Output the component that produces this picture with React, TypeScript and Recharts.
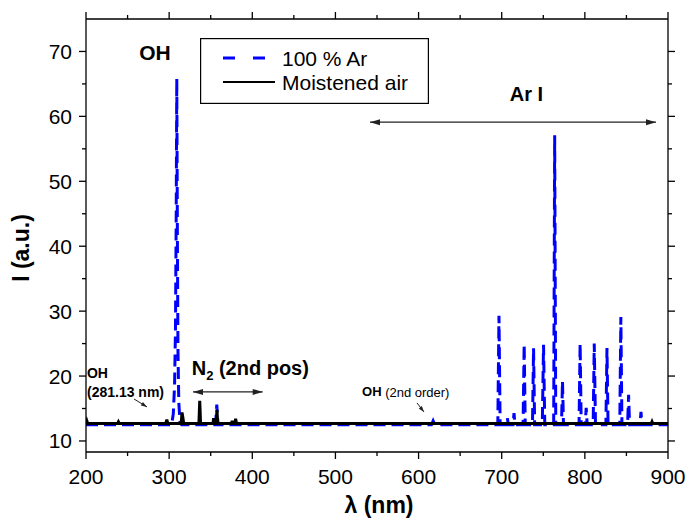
import React from 'react';
import { LineChart, Line, XAxis, YAxis, Legend, Label, ReferenceLine, ReferenceDot } from 'recharts';

// 100 % Ar spectrum (dashed blue)
const arWavelength = [
  200, 303, 305, 306.5, 307.6, 308.5, 309.2, 309.9, 310.6, 311.6, 313, 315,
  355.8, 357.3, 358.8, 615.5, 617.5, 619.5,
  695.3, 696.7, 698.1, 705.6, 706.8, 708, 713.6, 714.8, 716,
  725.7, 727.0, 728.3, 737.0, 738.3, 739.6, 748.8, 750.3, 751.8,
  762.5, 763.7, 765, 771.9, 773.1, 774.3, 793.0, 794.3, 795.6,
  800.4, 801.6, 802.8, 810.0, 811.3, 812.8, 825.3, 826.6, 827.9,
  842.0, 843.3, 844.6, 851.4, 852.6, 853.8, 866.3, 867.5, 868.7, 900,
];
const arIntensity = [
  12.5, 12.5, 14.2, 18.5, 27, 45, 65.8, 42, 24, 16, 13, 12.5,
  12.5, 15.6, 12.5, 12.5, 13.1, 12.5,
  12.5, 29.3, 12.5, 12.5, 13.5, 12.5, 12.5, 14.3, 12.5,
  12.5, 24.9, 12.5, 12.5, 24.3, 12.5, 12.5, 24.8, 12.5,
  12.5, 57.1, 12.5, 12.5, 19.2, 12.5, 12.5, 25.0, 12.5,
  12.5, 15.1, 12.5, 12.5, 25.0, 12.5, 12.5, 24.3, 12.5,
  12.5, 29.1, 12.5, 12.5, 17.1, 12.5, 12.5, 14.5, 12.5, 12.5,
];

// Moistened air spectrum (solid black)
const airWavelength = [
  200, 201, 202, 238, 239, 240, 296, 297.2, 298.4,
  314.5, 315.5, 316.5, 317.5, 335.8, 336.8, 337.8,
  352.8, 353.5, 354.5, 356.6, 357.5, 358.4,
  375, 375.8, 376.6, 379, 380, 381, 880, 880.8, 881.6, 900,
];
const airIntensity = [
  12.7, 13.1, 12.7, 12.7, 12.95, 12.7, 12.7, 13.3, 12.7,
  12.7, 14.4, 13.6, 12.7, 12.7, 16.2, 12.7,
  12.7, 13.5, 12.7, 12.7, 14.8, 12.7,
  12.7, 13.1, 12.7, 12.7, 13.4, 12.7, 12.7, 12.95, 12.7, 12.7,
];

const seriesNames = ['100 % Ar', 'Moistened air'];

const xTicks = [200, 250, 300, 350, 400, 450, 500, 550, 600, 650, 700, 750, 800, 850, 900];
const yTicks = [10, 15, 20, 25, 30, 35, 40, 45, 50, 55, 60, 65, 70];
const xDomain = [200, 900];
const yDomain = [8.3, 75];

const arData = arWavelength.map((x, i) => ({ x, y: arIntensity[i] }));
const airData = airWavelength.map((x, i) => ({ x, y: airIntensity[i] }));

const FONT = "Arial, 'Liberation Sans', sans-serif";
const AR_DASH = '12 6';

const BottomTick = ({ x, y, payload }: any) => {
  const major = payload.value % 100 === 0;
  return (
    <g>
      <line x1={x} y1={y} x2={x} y2={y + (major ? 7 : 4)} stroke="#000" strokeWidth={1.3} />
      {major && (
        <text x={x} y={y + 32} textAnchor="middle" fontSize={21} fontFamily={FONT} fill="#000">
          {payload.value}
        </text>
      )}
    </g>
  );
};

const TopTick = ({ x, y, payload }: any) => {
  const major = payload.value % 100 === 0;
  return <line x1={x} y1={y} x2={x} y2={y - (major ? 7 : 4)} stroke="#000" strokeWidth={1.3} />;
};

const LeftTick = ({ x, y, payload }: any) => {
  const major = payload.value % 10 === 0;
  return (
    <g>
      <line x1={x - (major ? 7 : 4)} y1={y} x2={x} y2={y} stroke="#000" strokeWidth={1.3} />
      {major && (
        <text x={x - 14} y={y + 7.5} textAnchor="end" fontSize={21} fontFamily={FONT} fill="#000">
          {payload.value}
        </text>
      )}
    </g>
  );
};

const RightTick = ({ x, y, payload }: any) => {
  const major = payload.value % 10 === 0;
  return <line x1={x} y1={y} x2={x + (major ? 7 : 4)} y2={y} stroke="#000" strokeWidth={1.3} />;
};

// line with filled arrowheads, drawn between the segment's ends
const arrow = (both: boolean, head: number, width: number, sw: number) => (p: any) => {
  const { x1, y1, x2, y2 } = p;
  const dx = x2 - x1;
  const dy = y2 - y1;
  const len = Math.hypot(dx, dy) || 1;
  const ux = dx / len;
  const uy = dy / len;
  const nx = -uy;
  const ny = ux;
  const tri = (tx: number, ty: number, dx: number, dy: number) =>
    `${tx},${ty} ${tx - dx * head + nx * width / 2},${ty - dy * head + ny * width / 2} ${tx - dx * head - nx * width / 2},${ty - dy * head - ny * width / 2}`;
  return (
    <g>
      <line x1={x1} y1={y1} x2={x2} y2={y2} stroke="#222" strokeWidth={sw} />
      <polygon points={tri(x2, y2, ux, uy)} fill="#222" />
      {both && <polygon points={tri(x1, y1, -ux, -uy)} fill="#222" />}
    </g>
  );
};

const textAt = (content: React.ReactNode, size: number, anchor: string = 'start', weight: string = 'bold') => (p: any) => (
  <text
    x={p.cx}
    y={p.cy}
    textAnchor={anchor}
    dominantBaseline="central"
    fontSize={size}
    fontWeight={weight}
    fontFamily={FONT}
    fill="#000"
  >
    {content}
  </text>
);

const renderLegend = () => (
  <svg width={229} height={66} style={{ display: 'block' }}>
    <rect x={0.6} y={0.6} width={227.8} height={64.8} fill="#fff" stroke="#000" strokeWidth={1.2} />
    <line x1={23} y1={20} x2={65} y2={20} stroke="#0000ff" strokeWidth={3} strokeDasharray="12 18" />
    <text x={82} y={20} dominantBaseline="central" fontSize={21} fontFamily={FONT} fill="#000">
      {seriesNames[0]}
    </text>
    <line x1={23} y1={44} x2={75} y2={44} stroke="#000" strokeWidth={2} />
    <text x={82} y={44} dominantBaseline="central" fontSize={21} fontFamily={FONT} fill="#000">
      {seriesNames[1]}
    </text>
  </svg>
);

const XTitle = ({ viewBox }: any) => (
  <text
    x={viewBox.x + viewBox.width / 2 + 2}
    y={viewBox.y + 61}
    textAnchor="middle"
    fontSize={23}
    fontWeight="bold"
    fontFamily={FONT}
    fill="#000"
  >
    λ (nm)
  </text>
);

const YTitle = () => (
  <text
    x={29}
    y={248}
    transform="rotate(-90, 29, 248)"
    textAnchor="middle"
    fontSize={23}
    fontWeight="bold"
    fontFamily={FONT}
    fill="#000"
  >
    I (a.u.)
  </text>
);

export default function App() {
  return (
    <div style={{ position: 'absolute', left: 0, top: 0, fontFamily: FONT }}>
      <LineChart width={686} height={519} margin={{ top: 9, right: 8, bottom: 27, left: 26 }}>
        <XAxis
          xAxisId="bottom"
          dataKey="x"
          type="number"
          domain={xDomain}
          ticks={xTicks}
          interval={0}
          allowDataOverflow
          height={40}
          tickSize={0}
          tickMargin={0}
          tick={<BottomTick />}
          axisLine={{ stroke: '#000', strokeWidth: 1.3 }}
        >
          <Label content={<XTitle />} />
        </XAxis>
        <XAxis
          xAxisId="top"
          orientation="top"
          dataKey="x"
          type="number"
          domain={xDomain}
          ticks={xTicks}
          interval={0}
          allowDataOverflow
          height={10}
          tickSize={0}
          tickMargin={0}
          tick={<TopTick />}
          axisLine={{ stroke: '#000', strokeWidth: 1.3 }}
        />
        <YAxis
          yAxisId="left"
          type="number"
          domain={yDomain}
          ticks={yTicks}
          interval={0}
          allowDataOverflow
          width={60}
          tickSize={0}
          tickMargin={0}
          tick={<LeftTick />}
          axisLine={{ stroke: '#000', strokeWidth: 1.3 }}
        >
          <Label content={<YTitle />} />
        </YAxis>
        <YAxis
          yAxisId="right"
          orientation="right"
          type="number"
          domain={yDomain}
          ticks={yTicks}
          interval={0}
          allowDataOverflow
          width={10}
          tickSize={0}
          tickMargin={0}
          tick={<RightTick />}
          axisLine={{ stroke: '#000', strokeWidth: 1.3 }}
        />

        <Legend
          content={renderLegend}
          layout="vertical"
          align="center"
          verticalAlign="middle"
          wrapperStyle={{ left: 200, top: 38, width: 229, height: 66 }}
        />

        <Line
          xAxisId="top"
          yAxisId="right"
          data={arData}
          dataKey="y"
          name={seriesNames[0]}
          type="linear"
          stroke="#0000ff"
          strokeWidth={3}
          strokeDasharray={AR_DASH}
          dot={false}
          activeDot={false}
          isAnimationActive={false}
        />
        <Line
          xAxisId="bottom"
          yAxisId="left"
          data={airData}
          dataKey="y"
          name={seriesNames[1]}
          type="linear"
          stroke="#000"
          strokeWidth={3}
          dot={false}
          activeDot={false}
          isAnimationActive={false}
        />

        {/* annotations */}
        <ReferenceDot xAxisId="bottom" yAxisId="left" x={283} y={69.8} r={0} shape={textAt('OH', 21, 'middle')} />
        <ReferenceDot xAxisId="bottom" yAxisId="left" x={729.8} y={63.5} r={0} shape={textAt('Ar I', 20, 'middle')} />
        <ReferenceLine
          xAxisId="bottom"
          yAxisId="left"
          segment={[{ x: 541.6, y: 59.1 }, { x: 885.6, y: 59.1 }]}
          shape={arrow(true, 10, 6, 1.3)}
        />
        <ReferenceDot
          xAxisId="bottom"
          yAxisId="left"
          x={327.1}
          y={21.25}
          r={0}
          shape={textAt(
            <>
              N<tspan fontSize={13} dy={7}>2</tspan>
              <tspan dy={-7}> (2nd pos)</tspan>
            </>,
            20,
          )}
        />
        <ReferenceLine
          xAxisId="bottom"
          yAxisId="left"
          segment={[{ x: 328.7, y: 17.55 }, { x: 412.5, y: 17.55 }]}
          shape={arrow(true, 10, 6, 1.3)}
        />
        <ReferenceDot xAxisId="bottom" yAxisId="left" x={201.2} y={20.48} r={0} shape={textAt('OH', 14)} />
        <ReferenceDot xAxisId="bottom" yAxisId="left" x={201.2} y={17.55} r={0} shape={textAt('(281.13 nm)', 14)} />
        <ReferenceLine
          xAxisId="bottom"
          yAxisId="left"
          segment={[{ x: 257.7, y: 16.47 }, { x: 273.4, y: 15.24 }]}
          shape={arrow(false, 6, 4, 1)}
        />
        <ReferenceDot
          xAxisId="bottom"
          yAxisId="left"
          x={532}
          y={17.55}
          r={0}
          shape={textAt(
            <>
              OH<tspan fontWeight="normal"> (2nd order)</tspan>
            </>,
            13,
          )}
        />
        <ReferenceLine
          xAxisId="bottom"
          yAxisId="left"
          segment={[{ x: 598.1, y: 15.86 }, { x: 606.5, y: 14.47 }]}
          shape={arrow(false, 6, 4, 1)}
        />
      </LineChart>
    </div>
  );
}
